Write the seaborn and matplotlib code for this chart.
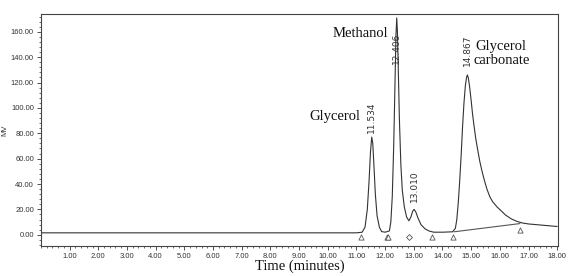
import matplotlib
matplotlib.use("Agg")
import matplotlib.pyplot as plt
from matplotlib.ticker import MultipleLocator, FormatStrFormatter
import seaborn as sns
import pandas as pd

# chromatogram samples (time in minutes, signal in mV)
time_min = [0.0, 11.0, 11.2, 11.3, 11.38, 11.44, 11.49, 11.534, 11.57, 11.61, 11.66,
            11.72, 11.8, 11.88, 12.0, 12.15, 12.2, 12.25, 12.3, 12.35, 12.38, 12.406,
            12.43, 12.46, 12.5, 12.55, 12.6, 12.67, 12.75, 12.83, 12.9, 12.96, 13.01,
            13.07, 13.15, 13.25, 13.4, 13.55, 13.7, 14.0, 14.35, 14.45, 14.5, 14.55,
            14.6, 14.65, 14.7, 14.75, 14.8, 14.84, 14.867, 14.9, 14.95, 15.0, 15.05,
            15.1, 15.16, 15.22, 15.3, 15.38, 15.46, 15.55, 15.65, 15.75, 15.9, 16.04,
            16.2, 16.4, 16.6, 16.8, 17.0, 17.5, 18.0]
signal_mv = [1.5, 1.5, 2.0, 6.0, 20.0, 42.0, 65.0, 77.0, 72.0, 55.0, 32.0,
             15.0, 6.0, 2.5, 2.0, 3.0, 10.0, 30.0, 70.0, 125.0, 158.0, 171.0,
             160.0, 130.0, 90.0, 55.0, 35.0, 22.0, 14.0, 11.0, 14.0, 18.5, 20.0,
             18.0, 13.0, 8.0, 4.5, 2.8, 2.0, 2.0, 2.3, 5.0, 12.0, 25.0,
             42.0, 62.0, 85.0, 104.0, 118.0, 124.0, 126.0, 124.0, 116.0, 106.0, 95.0,
             86.0, 76.0, 68.0, 58.0, 50.0, 43.0, 36.0, 30.0, 26.0, 22.0, 19.0,
             15.5, 12.5, 10.5, 9.2, 8.5, 7.5, 6.5]

# integration baseline segment
base_t = [14.4, 16.7]
base_mv = [2.3, 8.8]

# integration event markers
tri_t = [11.15, 12.05, 12.11, 13.65, 14.35, 16.7]
tri_mv = [-2.0, -2.0, -2.0, -2.0, -2.0, 3.5]
dia_t = [12.83]
dia_mv = [-2.0]

# retention time labels
rt_labels = ["11.534", "12.406", "13.010", "14.867"]
rt_x = [11.534, 12.406, 13.010, 14.867]
rt_y = [80, 135, 26, 133]

# compound names
names = ["Glycerol", "Methanol", "Glycerol\ncarbonate"]
name_x = [10.25, 11.15, 16.05]
name_y = [93, 159, 143]

sns.set_style("white")
plt.rcParams['font.family'] = ['DejaVu Sans']

narrow = ["Liberation Sans", "DejaVu Sans"]

fig = plt.figure(figsize=(5.68, 2.76), dpi=100)
ax = fig.add_axes([0.072, 0.11, 0.911, 0.839])

df = pd.DataFrame({"t": time_min, "mv": signal_mv})
sns.lineplot(data=df, x="t", y="mv", ax=ax, color="#333333", linewidth=0.8,
             estimator=None, sort=False)
sns.lineplot(x=base_t, y=base_mv, ax=ax, color="#555555", linewidth=0.8, estimator=None)
ax.scatter(tri_t, tri_mv, marker="^", s=14, facecolors="white", edgecolors="#555555",
           linewidths=0.6, zorder=3)
ax.scatter(dia_t, dia_mv, marker="D", s=9, facecolors="white", edgecolors="#555555",
           linewidths=0.6, zorder=3)

for lab, x, y in zip(rt_labels, rt_x, rt_y):
    ax.text(x, y, lab, rotation=90, ha="center", va="bottom", fontsize=6.5,
            color="#333333")

for lab, x, y in zip(names, name_x, name_y):
    ax.text(x, y, lab, ha="center", va="center", fontsize=10.5,
            family=["Liberation Serif"], color="#111111", linespacing=1.1)

ax.set_xlim(0, 18.04)
ax.set_ylim(-8.6, 174)
ax.xaxis.set_minor_locator(MultipleLocator(0.2))
ax.yaxis.set_major_locator(MultipleLocator(20))
ax.yaxis.set_minor_locator(MultipleLocator(4))
ax.xaxis.set_major_formatter(FormatStrFormatter("%.2f"))
ax.yaxis.set_major_formatter(FormatStrFormatter("%.2f"))
ax.set_xticks([float(i) for i in range(1, 19)])
ax.tick_params(axis="both", which="major", labelsize=5.5, length=3, width=0.6,
               colors="#333333", pad=2, direction="out")
ax.tick_params(axis="both", which="minor", length=1.5, width=0.5, colors="#333333",
               direction="out")
ax.tick_params(bottom=True, left=True, which="both")
for lab in ax.get_xticklabels() + ax.get_yticklabels():
    lab.set_family(narrow)
for s in ax.spines.values():
    s.set_color("#444444")
    s.set_linewidth(0.8)

ax.set_xlabel("Time (minutes)", family=["Liberation Serif"], fontsize=10.5, labelpad=0,
              color="#111111")
ax.set_ylabel("MV", fontsize=5.5, color="#333333", family=narrow)
ax.yaxis.set_label_coords(-0.062, 0.5)

fig.savefig("out.png", dpi=100)
